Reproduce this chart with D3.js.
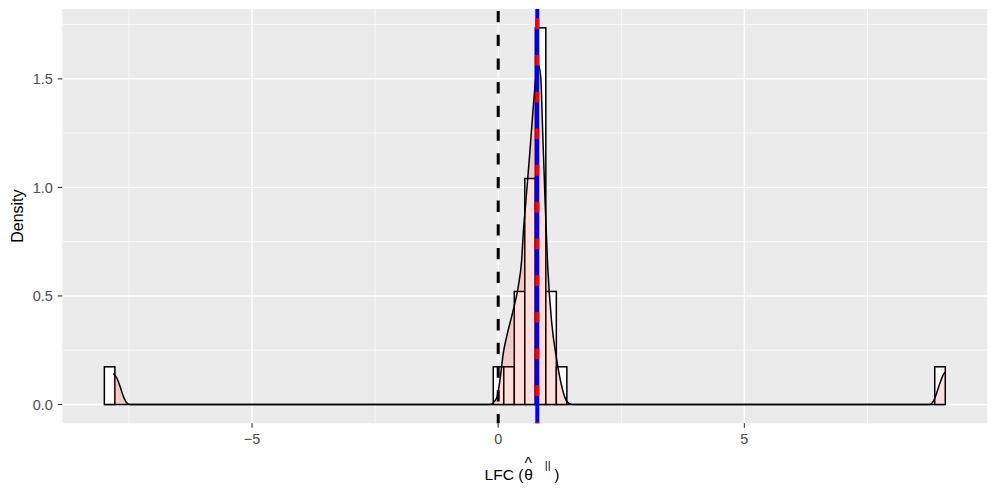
<!DOCTYPE html>
<html>
<head>
<meta charset="utf-8">
<script src="https://cdn.jsdelivr.net/npm/d3@7"></script>
<style>
  body { margin: 0; background: #fff; }
  svg { display: block; font-family: "Liberation Sans", Arial, Helvetica, sans-serif; }
</style>
</head>
<body>
<div id="chart"></div>
<script>
// histogram: 80 bins over histRange, only the non-empty ones listed (left edge + density)
const binWidth = 0.2135;
const histRange = [-8.0, 9.08];
const binStarts = [-8.0, -0.1005, 0.113, 0.3265, 0.54, 0.7535, 0.967, 1.1805, 8.8665];
const binDensity = [0.1735, 0.1735, 0.1735, 0.5205, 1.041, 1.735, 0.5205, 0.1735, 0.1735];

// kernel density curve
const densX = [-7.818, -7.749, -7.682, -7.615, -7.546, -7.479, -0.167, -0.030, 0.037, 0.104,
               0.173, 0.307, 0.408, 0.477, 0.510, 0.565, 0.646, 0.713, 0.782, 0.815,
               0.863, 0.904, 0.951, 1.005, 1.087, 1.188, 1.290, 1.391, 1.493, 8.771,
               8.839, 8.907, 8.974, 9.041, 9.076];
const densY = [0.143, 0.123, 0.084, 0.038, 0.008, 0, 0, 0.031, 0.115, 0.238,
               0.314, 0.437, 0.544, 0.667, 0.792, 0.943, 1.173, 1.373, 1.542, 1.565,
               1.511, 1.252, 0.943, 0.636, 0.376, 0.207, 0.084, 0.015, 0, 0,
               0.015, 0.054, 0.100, 0.138, 0.149];

// reference lines
const zeroLine = 0;
const meanLine = 0.794;
const medianLine = 0.794;

const xTicks = [-5, 0, 5];
const xMinor = [-7.5, -2.5, 2.5, 7.5];
const yTicks = [0, 0.5, 1.0, 1.5];
const yMinor = [0.25, 0.75, 1.25, 1.75];

const width = 997, height = 498;
const panel = { left: 62.3, right: 987.3, top: 9, bottom: 423.3 };

const svg = d3.select("#chart").append("svg")
    .attr("width", width)
    .attr("height", height);

// ggplot-style 5% expansion on both axes
const xSpan = histRange[1] - histRange[0];
const x = d3.scaleLinear()
    .domain([histRange[0] - 0.05 * xSpan, histRange[1] + 0.05 * xSpan])
    .range([panel.left, panel.right]);
const yMax = d3.max(binDensity);
const y = d3.scaleLinear()
    .domain([-0.05 * yMax, yMax * 1.05])
    .range([panel.bottom, panel.top]);

// panel background + grid
svg.append("rect")
    .attr("x", panel.left).attr("y", panel.top)
    .attr("width", panel.right - panel.left)
    .attr("height", panel.bottom - panel.top)
    .attr("fill", "#EBEBEB");

const grid = svg.append("g");
grid.selectAll(".ymin").data(yMinor).enter().append("line")
    .attr("x1", panel.left).attr("x2", panel.right)
    .attr("y1", d => y(d)).attr("y2", d => y(d))
    .attr("stroke", "#fff").attr("stroke-width", 0.7);
grid.selectAll(".xmin").data(xMinor).enter().append("line")
    .attr("y1", panel.top).attr("y2", panel.bottom)
    .attr("x1", d => x(d)).attr("x2", d => x(d))
    .attr("stroke", "#fff").attr("stroke-width", 0.7);
grid.selectAll(".ymaj").data(yTicks).enter().append("line")
    .attr("x1", panel.left).attr("x2", panel.right)
    .attr("y1", d => y(d)).attr("y2", d => y(d))
    .attr("stroke", "#fff").attr("stroke-width", 1.4);
grid.selectAll(".xmaj").data(xTicks).enter().append("line")
    .attr("y1", panel.top).attr("y2", panel.bottom)
    .attr("x1", d => x(d)).attr("x2", d => x(d))
    .attr("stroke", "#fff").attr("stroke-width", 1.4);

// histogram: empty bins collapse onto the baseline
svg.append("line")
    .attr("x1", x(histRange[0])).attr("x2", x(histRange[1]))
    .attr("y1", y(0)).attr("y2", y(0))
    .attr("stroke", "#000").attr("stroke-width", 1.5);

const bins = binStarts.map((s, i) => ({ x0: s, x1: s + binWidth, d: binDensity[i] }));
svg.append("g").selectAll("rect").data(bins).enter().append("rect")
    .attr("x", d => x(d.x0))
    .attr("y", d => y(d.d))
    .attr("width", d => x(d.x1) - x(d.x0))
    .attr("height", d => y(0) - y(d.d))
    .attr("fill", "#fff")
    .attr("stroke", "#000")
    .attr("stroke-width", 1.5);

// density area + outline
const dens = densX.map((v, i) => [v, densY[i]]);
svg.append("path")
    .datum(dens)
    .attr("d", d3.area().x(d => x(d[0])).y0(y(0)).y1(d => y(d[1])).curve(d3.curveMonotoneX))
    .attr("fill", "red")
    .attr("fill-opacity", 0.13);
svg.append("path")
    .datum(dens)
    .attr("d", d3.line().x(d => x(d[0])).y(d => y(d[1])).curve(d3.curveMonotoneX))
    .attr("fill", "none")
    .attr("stroke", "#000")
    .attr("stroke-width", 1.5);

// vertical reference lines
svg.append("line")
    .attr("x1", x(zeroLine)).attr("x2", x(zeroLine))
    .attr("y1", panel.top).attr("y2", panel.bottom)
    .attr("stroke", "#000").attr("stroke-width", 3)
    .attr("stroke-dasharray", "11.3 12.4")
    .attr("stroke-dashoffset", 21.7);
svg.append("line")
    .attr("x1", x(medianLine)).attr("x2", x(medianLine))
    .attr("y1", panel.top).attr("y2", panel.bottom)
    .attr("stroke", "#0000FF").attr("stroke-width", 4);
svg.append("line")
    .attr("x1", x(meanLine)).attr("x2", x(meanLine))
    .attr("y1", panel.top).attr("y2", panel.bottom)
    .attr("stroke", "#FF0000").attr("stroke-width", 4)
    .attr("stroke-dasharray", "10.7 26")
    .attr("stroke-dashoffset", 27.4);

// axes
const fmtX = d => (d < 0 ? "\u2212" + Math.abs(d) : String(d));
const xAxis = svg.append("g");
xAxis.selectAll("line").data(xTicks).enter().append("line")
    .attr("x1", d => x(d)).attr("x2", d => x(d))
    .attr("y1", panel.bottom).attr("y2", panel.bottom + 4.5)
    .attr("stroke", "#333").attr("stroke-width", 1.1);
xAxis.selectAll("text").data(xTicks).enter().append("text")
    .attr("x", d => x(d)).attr("y", panel.bottom + 20.5)
    .attr("text-anchor", "middle")
    .attr("font-size", 14.5)
    .attr("fill", "#4D4D4D")
    .text(fmtX);

const yAxis = svg.append("g");
yAxis.selectAll("line").data(yTicks).enter().append("line")
    .attr("x1", panel.left - 4.5).attr("x2", panel.left)
    .attr("y1", d => y(d)).attr("y2", d => y(d))
    .attr("stroke", "#333").attr("stroke-width", 1.1);
yAxis.selectAll("text").data(yTicks).enter().append("text")
    .attr("x", panel.left - 9.5).attr("y", d => y(d))
    .attr("dy", "0.36em")
    .attr("text-anchor", "end")
    .attr("font-size", 14.5)
    .attr("fill", "#4D4D4D")
    .text(d => d3.format(".1f")(d));

// axis titles
svg.append("text")
    .attr("transform", `translate(23,${(panel.top + panel.bottom) / 2}) rotate(-90)`)
    .attr("text-anchor", "middle")
    .attr("font-size", 16)
    .attr("fill", "#000")
    .text("Density");

// LFC (theta-hat with superscript ||), one text element with tspans
const cx = (panel.left + panel.right) / 2;
const xt = svg.append("text").attr("font-size", 15.5).attr("fill", "#000");
const lead = xt.append("tspan").attr("y", 480).text("LFC (");
xt.append("tspan").attr("x", cx - 0.5).attr("y", 480).text("\u03B8");
xt.append("tspan").attr("x", cx - 0.2).attr("y", 468.5).attr("font-size", 16).text("^");
xt.append("tspan").attr("x", cx + 20).attr("y", 469).attr("font-size", 11).text("||");
xt.append("tspan").attr("x", cx + 29.5).attr("y", 480).text(")");
lead.attr("x", cx - 1.5 - lead.node().getComputedTextLength());
</script>
</body>
</html>
